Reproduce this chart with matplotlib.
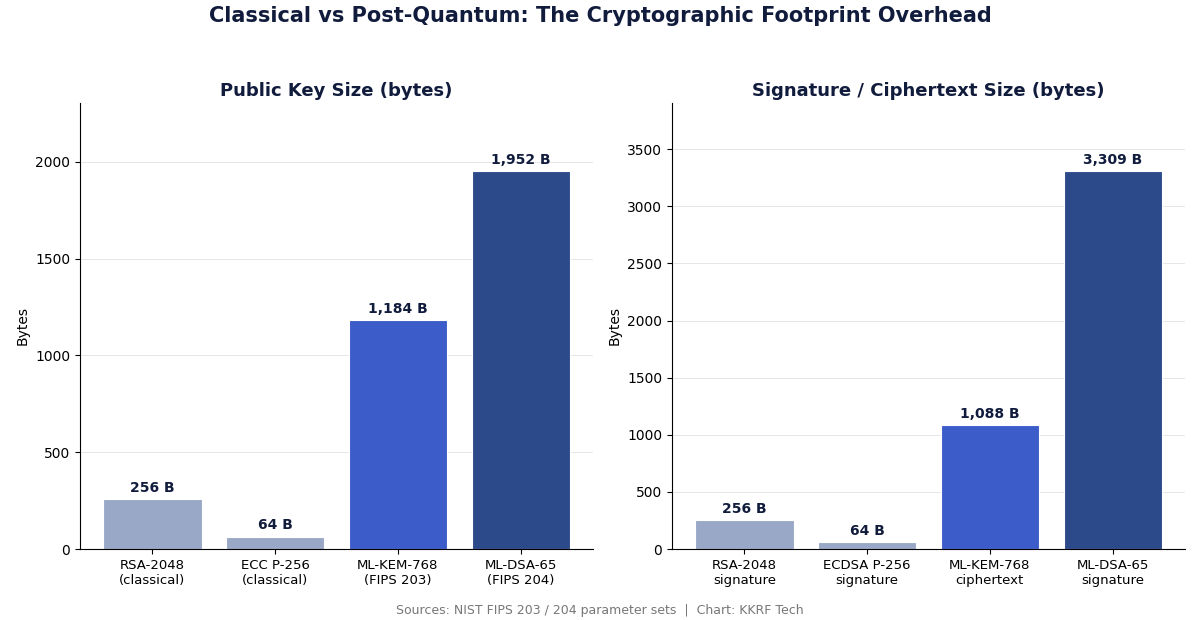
import matplotlib
matplotlib.use("Agg")
import matplotlib.pyplot as plt

plt.rcParams['font.family'] = ['DejaVu Sans']

pk_labels = ["RSA-2048\n(classical)", "ECC P-256\n(classical)", "ML-KEM-768\n(FIPS 203)", "ML-DSA-65\n(FIPS 204)"]
pk_values = [256, 64, 1184, 1952]
sig_labels = ["RSA-2048\nsignature", "ECDSA P-256\nsignature", "ML-KEM-768\nciphertext", "ML-DSA-65\nsignature"]
sig_values = [256, 64, 1088, 3309]
bar_colors = ["#9aa8c7", "#9aa8c7", "#3c5dc9", "#2c4a8a"]

navy = "#111c3d"

fig, axes = plt.subplots(1, 2, figsize=(12, 6.2), dpi=100)
fig.subplots_adjust(left=0.0667, right=0.9875, top=0.834, bottom=0.1145, wspace=0.154)

def draw(ax, labels, values, title):
    x = range(len(values))
    bars = ax.bar(x, values, width=0.8, color=bar_colors, edgecolor="white", linewidth=0.8, zorder=2)
    ax.set_xticks(list(x))
    ax.set_xticklabels(labels, fontsize=9.5)
    ax.set_ylim(0, max(values) * 1.18)
    ax.set_ylabel("Bytes", fontsize=10)
    ax.set_title(title, fontsize=13, fontweight="bold", color=navy, pad=5)
    ax.spines["top"].set_visible(False)
    ax.spines["right"].set_visible(False)
    ax.yaxis.grid(True, color="#e6e6e6", linewidth=0.7, zorder=0)
    ax.set_axisbelow(True)
    ax.tick_params(axis="y", labelsize=10)
    for b, v in zip(bars, values):
        ax.annotate(f"{v:,} B", (b.get_x() + b.get_width() / 2, v),
                    xytext=(0, 3), textcoords="offset points",
                    ha="center", va="bottom", fontsize=10, fontweight="bold", color=navy)

draw(axes[0], pk_labels, pk_values, "Public Key Size (bytes)")
draw(axes[1], sig_labels, sig_values, "Signature / Ciphertext Size (bytes)")

fig.suptitle("Classical vs Post-Quantum: The Cryptographic Footprint Overhead",
             fontsize=15, fontweight="bold", color=navy, y=0.99, va="top")
fig.text(0.5, 0.016, "Sources: NIST FIPS 203 / 204 parameter sets  |  Chart: KKRF Tech",
         ha="center", va="center", fontsize=9, color="#777777")

fig.savefig("out.png", dpi=100)
